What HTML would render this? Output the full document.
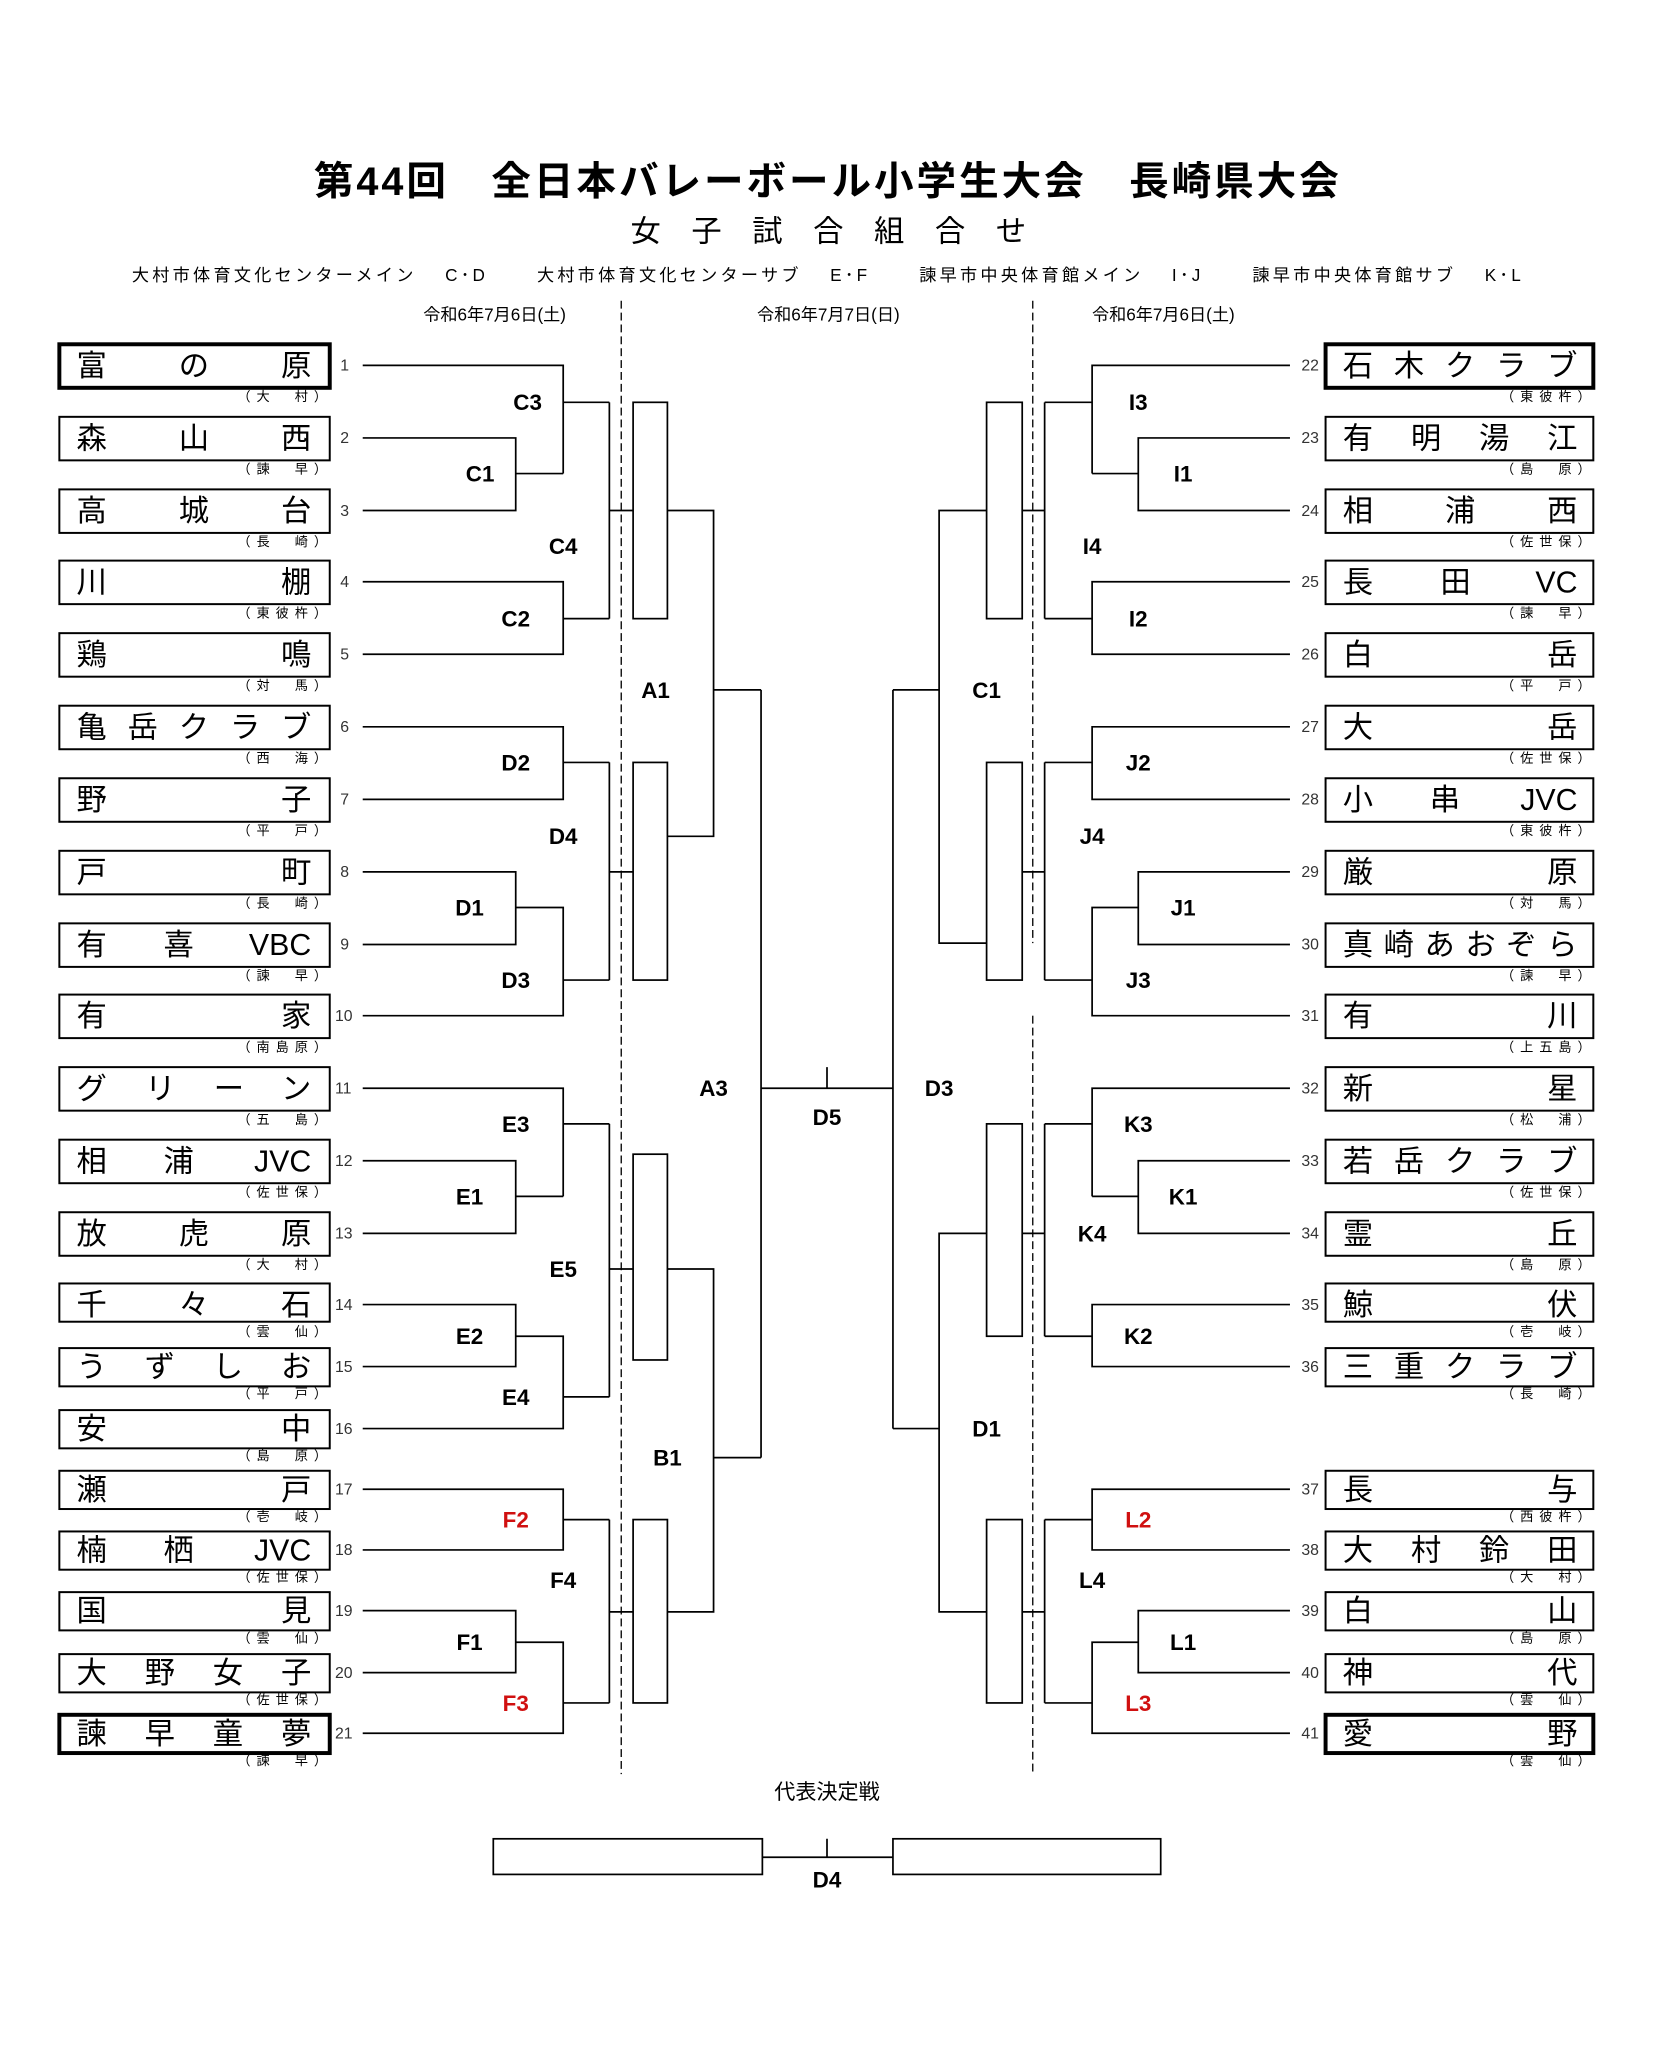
<!DOCTYPE html>
<html><head><meta charset="utf-8"><style>
html,body{margin:0;padding:0;background:#fff}
svg{display:block}
.n{font-family:"Liberation Sans","Noto Sans CJK JP",sans-serif;font-size:23px;fill:#000}
.r{font-family:"Liberation Sans","Noto Sans CJK JP",sans-serif;font-size:10px;fill:#000}
.num{font-family:"Liberation Sans",sans-serif;font-size:12px;fill:#333}
.lb{font-family:"Liberation Sans",sans-serif;font-size:17px;font-weight:bold;fill:#000;text-anchor:middle}
.red{fill:#d01010}
.hd{font-family:"Liberation Sans","Noto Sans CJK JP",sans-serif;fill:#000}
</style></head><body>
<svg width="1654" height="2067" viewBox="0 0 1254 1567" preserveAspectRatio="none" xmlns="http://www.w3.org/2000/svg">
<rect width="1254" height="1567" fill="#fff"/>
<text x="238" y="148" class="hd" font-size="30" font-weight="bold" textLength="777" lengthAdjust="spacing">第44回　全日本バレーボール小学生大会　長崎県大会</text>
<text x="478" y="183" class="hd" font-size="23" textLength="300" lengthAdjust="spacing">女子試合組合せ</text>
<text x="100" y="213" class="hd" font-size="13" textLength="1053" lengthAdjust="spacing">大村市体育文化センターメイン　 C･D　　 大村市体育文化センターサブ　 E･F　　 諫早市中央体育館メイン　 I･J　　 諫早市中央体育館サブ　 K･L</text>
<text x="375" y="243" class="hd" font-size="13" text-anchor="middle">令和6年7月6日(土)</text>
<text x="628" y="243" class="hd" font-size="13" text-anchor="middle">令和6年7月7日(日)</text>
<text x="882" y="243" class="hd" font-size="13" text-anchor="middle">令和6年7月6日(土)</text>

<g stroke="#000" stroke-width="1" stroke-dasharray="6,3">
<line x1="471" y1="228" x2="471" y2="1345"/>
<line x1="783" y1="228" x2="783" y2="715"/>
<line x1="783" y1="770" x2="783" y2="1345"/>
</g>

<g fill="none" stroke="#000" stroke-width="1.3">
<path d="M275 277H427V359 M275 332H391V387H275 M391 359H427 M427 305H462 M275 441H427V496H275 M427 469H462 M462 305V469 M462 387H480"/>
<rect x="480" y="305" width="26" height="164"/>
<path d="M506 387H541V634H506 M541 523H577"/>
<path d="M275 551H427V606H275 M427 578H462 M275 661H391V716H275 M391 688H427V770H275 M427 743H462 M462 578V743 M462 661H480"/>
<rect x="480" y="578" width="26" height="165"/>
<path d="M577 523V1105 M577 825H677 M627 809V825 M677 523V1083 M677 523H712 M677 1083H712"/>
<path d="M275 825H427V907 M275 880H391V935H275 M391 907H427 M427 852H462 M275 989H391V1036H275 M391 1013H427V1083H275 M427 1059H462 M462 852V1059 M462 962H480"/>
<rect x="480" y="875" width="26" height="156"/>
<path d="M506 962H541V1222H506 M541 1105H577"/>
<path d="M275 1129H427V1175H275 M427 1152H462 M275 1221H391V1268H275 M391 1245H427V1314H275 M427 1291H462 M462 1152V1291 M462 1222H480"/>
<rect x="480" y="1152" width="26" height="139"/>

<path d="M978 277H828V359 M978 332H863V387H978 M863 359H828 M828 305H792 M978 441H828V496H978 M828 469H792 M792 305V469 M792 387H775"/>
<rect x="748" y="305" width="27" height="164"/>
<path d="M748 387H712V715H748"/>
<path d="M978 551H828V606H978 M828 578H792 M978 661H863V716H978 M863 688H828V770H978 M828 743H792 M792 578V743 M792 661H775"/>
<rect x="748" y="578" width="27" height="165"/>
<path d="M978 825H828V907 M978 880H863V935H978 M863 907H828 M828 852H792 M978 989H828V1036H978 M828 1013H792 M792 852V1013 M792 935H775"/>
<rect x="748" y="852" width="27" height="161"/>
<path d="M748 935H712V1222H748"/>
<path d="M978 1129H828V1175H978 M828 1152H792 M978 1221H863V1268H978 M863 1245H828V1314H978 M828 1291H792 M792 1152V1291 M792 1222H775"/>
<rect x="748" y="1152" width="27" height="139"/>

<rect x="374" y="1394" width="204" height="27"/>
<rect x="677" y="1394" width="203" height="27"/>
<path d="M578 1408H677 M627 1394V1408"/>
</g>

<g class="lb">
<text x="400" y="311">C3</text><text x="364" y="365">C1</text><text x="427" y="420">C4</text><text x="391" y="475">C2</text>
<text x="497" y="529">A1</text>
<text x="391" y="584">D2</text><text x="427" y="640">D4</text><text x="356" y="694">D1</text><text x="391" y="749">D3</text>
<text x="541" y="831">A3</text><text x="627" y="853">D5</text><text x="712" y="831">D3</text>
<text x="391" y="858">E3</text><text x="356" y="913">E1</text><text x="427" y="968">E5</text><text x="356" y="1019">E2</text><text x="391" y="1065">E4</text>
<text x="506" y="1111">B1</text>
<text x="391" y="1158" class="red">F2</text><text x="427" y="1204">F4</text><text x="356" y="1251">F1</text><text x="391" y="1297" class="red">F3</text>
<text x="863" y="311">I3</text><text x="897" y="365">I1</text><text x="828" y="420">I4</text><text x="863" y="475">I2</text>
<text x="748" y="529">C1</text>
<text x="863" y="584">J2</text><text x="828" y="640">J4</text><text x="897" y="694">J1</text><text x="863" y="749">J3</text>
<text x="863" y="858">K3</text><text x="897" y="913">K1</text><text x="828" y="941">K4</text><text x="863" y="1019">K2</text>
<text x="748" y="1089">D1</text>
<text x="863" y="1158" class="red">L2</text><text x="828" y="1204">L4</text><text x="897" y="1251">L1</text><text x="863" y="1297" class="red">L3</text>
<text x="627" y="1431">D4</text>
</g>
<text x="627" y="1364" class="hd" font-size="16" text-anchor="middle">代表決定戦</text>

<g fill="none" stroke="#000" stroke-width="1.5">
<rect x="45" y="261" width="205" height="33" stroke-width="3"/>
<rect x="45" y="316" width="205" height="33"/>
<rect x="45" y="371" width="205" height="33"/>
<rect x="45" y="425" width="205" height="33"/>
<rect x="45" y="480" width="205" height="33"/>
<rect x="45" y="535" width="205" height="33"/>
<rect x="45" y="590" width="205" height="33"/>
<rect x="45" y="645" width="205" height="33"/>
<rect x="45" y="700" width="205" height="33"/>
<rect x="45" y="754" width="205" height="33"/>
<rect x="45" y="809" width="205" height="33"/>
<rect x="45" y="864" width="205" height="33"/>
<rect x="45" y="919" width="205" height="33"/>
<rect x="45" y="973" width="205" height="29"/>
<rect x="45" y="1022" width="205" height="29"/>
<rect x="45" y="1069" width="205" height="29"/>
<rect x="45" y="1115" width="205" height="29"/>
<rect x="45" y="1161" width="205" height="29"/>
<rect x="45" y="1207" width="205" height="29"/>
<rect x="45" y="1254" width="205" height="29"/>
<rect x="45" y="1300" width="205" height="29" stroke-width="3"/>
<rect x="1005" y="261" width="203" height="33" stroke-width="3"/>
<rect x="1005" y="316" width="203" height="33"/>
<rect x="1005" y="371" width="203" height="33"/>
<rect x="1005" y="425" width="203" height="33"/>
<rect x="1005" y="480" width="203" height="33"/>
<rect x="1005" y="535" width="203" height="33"/>
<rect x="1005" y="590" width="203" height="33"/>
<rect x="1005" y="645" width="203" height="33"/>
<rect x="1005" y="700" width="203" height="33"/>
<rect x="1005" y="754" width="203" height="33"/>
<rect x="1005" y="809" width="203" height="33"/>
<rect x="1005" y="864" width="203" height="33"/>
<rect x="1005" y="919" width="203" height="33"/>
<rect x="1005" y="973" width="203" height="29"/>
<rect x="1005" y="1022" width="203" height="29"/>
<rect x="1005" y="1115" width="203" height="29"/>
<rect x="1005" y="1161" width="203" height="29"/>
<rect x="1005" y="1207" width="203" height="29"/>
<rect x="1005" y="1254" width="203" height="29"/>
<rect x="1005" y="1300" width="203" height="29" stroke-width="3"/>
</g>

<g class="n">
<text x="58" y="285" textLength="178" lengthAdjust="spacing">富の原</text>
<text x="58" y="340" textLength="178" lengthAdjust="spacing">森山西</text>
<text x="58" y="395" textLength="178" lengthAdjust="spacing">高城台</text>
<text x="58" y="449" textLength="178" lengthAdjust="spacing">川棚</text>
<text x="58" y="504" textLength="178" lengthAdjust="spacing">鶏鳴</text>
<text x="58" y="559" textLength="178" lengthAdjust="spacing">亀岳クラブ</text>
<text x="58" y="614" textLength="178" lengthAdjust="spacing">野子</text>
<text x="58" y="669" textLength="178" lengthAdjust="spacing">戸町</text>
<text x="58" y="724">有</text><text x="124" y="724">喜</text><text x="236" y="724" text-anchor="end">VBC</text>
<text x="58" y="778" textLength="178" lengthAdjust="spacing">有家</text>
<text x="58" y="833" textLength="178" lengthAdjust="spacing">グリーン</text>
<text x="58" y="888">相</text><text x="124" y="888">浦</text><text x="236" y="888" text-anchor="end">JVC</text>
<text x="58" y="943" textLength="178" lengthAdjust="spacing">放虎原</text>
<text x="58" y="997" textLength="178" lengthAdjust="spacing">千々石</text>
<text x="58" y="1044" textLength="178" lengthAdjust="spacing">うずしお</text>
<text x="58" y="1091" textLength="178" lengthAdjust="spacing">安中</text>
<text x="58" y="1137" textLength="178" lengthAdjust="spacing">瀬戸</text>
<text x="58" y="1183">楠</text><text x="124" y="1183">栖</text><text x="236" y="1183" text-anchor="end">JVC</text>
<text x="58" y="1229" textLength="178" lengthAdjust="spacing">国見</text>
<text x="58" y="1276" textLength="178" lengthAdjust="spacing">大野女子</text>
<text x="58" y="1322" textLength="178" lengthAdjust="spacing">諫早童夢</text>
</g>
<g class="n">
<text x="1018" y="285" textLength="178" lengthAdjust="spacing">石木クラブ</text>
<text x="1018" y="340" textLength="178" lengthAdjust="spacing">有明湯江</text>
<text x="1018" y="395" textLength="178" lengthAdjust="spacing">相浦西</text>
<text x="1018" y="449">長</text><text x="1092" y="449">田</text><text x="1196" y="449" text-anchor="end">VC</text>
<text x="1018" y="504" textLength="178" lengthAdjust="spacing">白岳</text>
<text x="1018" y="559" textLength="178" lengthAdjust="spacing">大岳</text>
<text x="1018" y="614">小</text><text x="1084" y="614">串</text><text x="1196" y="614" text-anchor="end">JVC</text>
<text x="1018" y="669" textLength="178" lengthAdjust="spacing">厳原</text>
<text x="1018" y="724" textLength="178" lengthAdjust="spacing">真崎あおぞら</text>
<text x="1018" y="778" textLength="178" lengthAdjust="spacing">有川</text>
<text x="1018" y="833" textLength="178" lengthAdjust="spacing">新星</text>
<text x="1018" y="888" textLength="178" lengthAdjust="spacing">若岳クラブ</text>
<text x="1018" y="943" textLength="178" lengthAdjust="spacing">霊丘</text>
<text x="1018" y="997" textLength="178" lengthAdjust="spacing">鯨伏</text>
<text x="1018" y="1044" textLength="178" lengthAdjust="spacing">三重クラブ</text>
<text x="1018" y="1137" textLength="178" lengthAdjust="spacing">長与</text>
<text x="1018" y="1183" textLength="178" lengthAdjust="spacing">大村鈴田</text>
<text x="1018" y="1229" textLength="178" lengthAdjust="spacing">白山</text>
<text x="1018" y="1276" textLength="178" lengthAdjust="spacing">神代</text>
<text x="1018" y="1322" textLength="178" lengthAdjust="spacing">愛野</text>
</g>

<g class="r">
<text x="180" y="304" textLength="68" lengthAdjust="spacing">（大　村）</text>
<text x="180" y="359" textLength="68" lengthAdjust="spacing">（諫　早）</text>
<text x="180" y="414" textLength="68" lengthAdjust="spacing">（長　崎）</text>
<text x="180" y="468" textLength="68" lengthAdjust="spacing">（東彼杵）</text>
<text x="180" y="523" textLength="68" lengthAdjust="spacing">（対　馬）</text>
<text x="180" y="578" textLength="68" lengthAdjust="spacing">（西　海）</text>
<text x="180" y="633" textLength="68" lengthAdjust="spacing">（平　戸）</text>
<text x="180" y="688" textLength="68" lengthAdjust="spacing">（長　崎）</text>
<text x="180" y="743" textLength="68" lengthAdjust="spacing">（諫　早）</text>
<text x="180" y="797" textLength="68" lengthAdjust="spacing">（南島原）</text>
<text x="180" y="852" textLength="68" lengthAdjust="spacing">（五　島）</text>
<text x="180" y="907" textLength="68" lengthAdjust="spacing">（佐世保）</text>
<text x="180" y="962" textLength="68" lengthAdjust="spacing">（大　村）</text>
<text x="180" y="1013" textLength="68" lengthAdjust="spacing">（雲　仙）</text>
<text x="180" y="1060" textLength="68" lengthAdjust="spacing">（平　戸）</text>
<text x="180" y="1107" textLength="68" lengthAdjust="spacing">（島　原）</text>
<text x="180" y="1153" textLength="68" lengthAdjust="spacing">（壱　岐）</text>
<text x="180" y="1199" textLength="68" lengthAdjust="spacing">（佐世保）</text>
<text x="180" y="1245" textLength="68" lengthAdjust="spacing">（雲　仙）</text>
<text x="180" y="1292" textLength="68" lengthAdjust="spacing">（佐世保）</text>
<text x="180" y="1338" textLength="68" lengthAdjust="spacing">（諫　早）</text>

<text x="1138" y="304" textLength="68" lengthAdjust="spacing">（東彼杵）</text>
<text x="1138" y="359" textLength="68" lengthAdjust="spacing">（島　原）</text>
<text x="1138" y="414" textLength="68" lengthAdjust="spacing">（佐世保）</text>
<text x="1138" y="468" textLength="68" lengthAdjust="spacing">（諫　早）</text>
<text x="1138" y="523" textLength="68" lengthAdjust="spacing">（平　戸）</text>
<text x="1138" y="578" textLength="68" lengthAdjust="spacing">（佐世保）</text>
<text x="1138" y="633" textLength="68" lengthAdjust="spacing">（東彼杵）</text>
<text x="1138" y="688" textLength="68" lengthAdjust="spacing">（対　馬）</text>
<text x="1138" y="743" textLength="68" lengthAdjust="spacing">（諫　早）</text>
<text x="1138" y="797" textLength="68" lengthAdjust="spacing">（上五島）</text>
<text x="1138" y="852" textLength="68" lengthAdjust="spacing">（松　浦）</text>
<text x="1138" y="907" textLength="68" lengthAdjust="spacing">（佐世保）</text>
<text x="1138" y="962" textLength="68" lengthAdjust="spacing">（島　原）</text>
<text x="1138" y="1013" textLength="68" lengthAdjust="spacing">（壱　岐）</text>
<text x="1138" y="1060" textLength="68" lengthAdjust="spacing">（長　崎）</text>
<text x="1138" y="1153" textLength="68" lengthAdjust="spacing">（西彼杵）</text>
<text x="1138" y="1199" textLength="68" lengthAdjust="spacing">（大　村）</text>
<text x="1138" y="1245" textLength="68" lengthAdjust="spacing">（島　原）</text>
<text x="1138" y="1292" textLength="68" lengthAdjust="spacing">（雲　仙）</text>
<text x="1138" y="1338" textLength="68" lengthAdjust="spacing">（雲　仙）</text>
</g>

<g class="num">
<text x="258" y="281">1</text><text x="258" y="336">2</text><text x="258" y="391">3</text><text x="258" y="445">4</text><text x="258" y="500">5</text><text x="258" y="555">6</text><text x="258" y="610">7</text><text x="258" y="665">8</text><text x="258" y="720">9</text>
<text x="254" y="774">10</text><text x="254" y="829">11</text><text x="254" y="884">12</text><text x="254" y="939">13</text><text x="254" y="993">14</text><text x="254" y="1040">15</text><text x="254" y="1087">16</text><text x="254" y="1133">17</text><text x="254" y="1179">18</text><text x="254" y="1225">19</text><text x="254" y="1272">20</text><text x="254" y="1318">21</text>
</g>
<g class="num" text-anchor="end">
<text x="1000" y="281">22</text><text x="1000" y="336">23</text><text x="1000" y="391">24</text><text x="1000" y="445">25</text><text x="1000" y="500">26</text><text x="1000" y="555">27</text><text x="1000" y="610">28</text><text x="1000" y="665">29</text><text x="1000" y="720">30</text><text x="1000" y="774">31</text><text x="1000" y="829">32</text><text x="1000" y="884">33</text><text x="1000" y="939">34</text><text x="1000" y="993">35</text><text x="1000" y="1040">36</text><text x="1000" y="1133">37</text><text x="1000" y="1179">38</text><text x="1000" y="1225">39</text><text x="1000" y="1272">40</text><text x="1000" y="1318">41</text>
</g>
</svg>
</body></html>
